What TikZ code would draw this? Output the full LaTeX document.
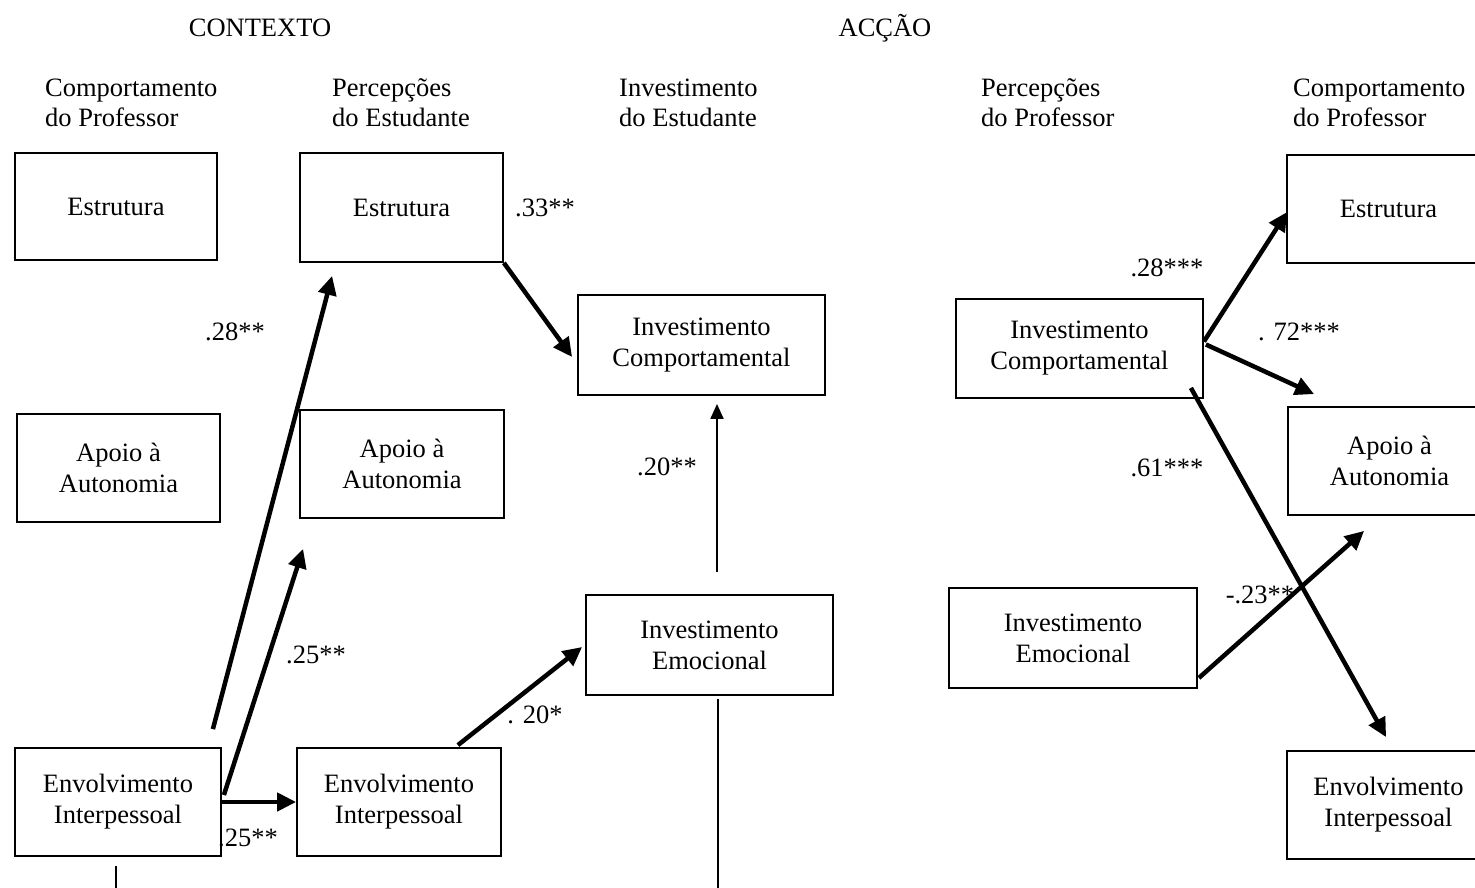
\documentclass[tikz,border=0pt]{standalone}
\usepackage{fontspec}
\setmainfont{Liberation Serif}
\usetikzlibrary{calc,arrows.meta}
\tikzset{
	caixa/.style={draw, line width=1.8pt, align=center, inner sep=0pt, font=\fontsize{26.5}{31}\selectfont},
	titulo/.style={align=left, inner sep=0pt, anchor=west, font=\fontsize{26.5}{30}\selectfont},
	coef/.style={inner sep=0pt, font=\fontsize{26.5}{30}\selectfont},
	seta/.style={line width=4.5pt, -{Triangle[length=19pt,width=18pt]}},
	setafina/.style={line width=1.8pt, -{Triangle[length=15pt,width=13pt]}},
	linha/.style={line width=1.8pt}
}

\begin{document}
\begin{tikzpicture}[x=1pt,y=-1pt]
			%%%%% START %%%%%
			\useasboundingbox (0,0) rectangle (1475,888);
			\clip (0,0) rectangle (1475,888);
			
			\node[coef] (contexto) at (260, 28) {CONTEXTO};
			\node[coef] (accao) at (885, 28) {ACÇÃO};
			
			\node[titulo] (t1) at (45, 103) {Comportamento\\do Professor};
			\node[titulo] (t2) at (332, 103) {Percepções\\do Estudante};
			\node[titulo] (t3) at (619, 103) {Investimento\\do Estudante};
			\node[titulo] (t4) at (981, 103) {Percepções\\do Professor};
			\node[titulo] (t5) at (1293, 103) {Comportamento\\do Professor};
			
			% contexto
			\node[caixa, minimum width=202pt, minimum height=107pt] (ce1) at (116, 206.5) {Estrutura};
			\node[caixa, minimum width=203pt, minimum height=108pt] (ca1) at (118.5, 468) {Apoio à\\Autonomia};
			\node[caixa, minimum width=206pt, minimum height=108pt] (cv1) at (118, 802) {Envolvimento\\Interpessoal};
			
			\node[caixa, minimum width=203pt, minimum height=109pt] (pe) at (401.5, 207.5) {Estrutura};
			\node[caixa, minimum width=204pt, minimum height=108pt] (pa) at (402, 464) {Apoio à\\Autonomia};
			\node[caixa, minimum width=204pt, minimum height=108pt] (pv) at (399, 802) {Envolvimento\\Interpessoal};
			
			\node[caixa, minimum width=247pt, minimum height=100pt] (ic) at (701.5, 345) {Investimento\\Comportamental};
			\node[caixa, minimum width=247pt, minimum height=100pt] (ie) at (709.5, 645) {Investimento\\Emocional};
			
			% accao
			\node[caixa, minimum width=247pt, minimum height=99pt] (ric) at (1079.5, 348.5) {Investimento\\Comportamental};
			\node[caixa, minimum width=248pt, minimum height=100pt] (rie) at (1073, 638) {Investimento\\Emocional};
			
			\node[caixa, minimum width=203pt, minimum height=108pt] (re) at (1388.5, 209) {Estrutura};
			\node[caixa, minimum width=203pt, minimum height=108pt] (ra) at (1389.5, 461) {Apoio à\\Autonomia};
			\node[caixa, minimum width=203pt, minimum height=108pt] (rv) at (1388.5, 805) {Envolvimento\\Interpessoal};
			
			\node[coef] (c28) at (235, 332) {.28**};
			\node[coef] (c25a) at (316, 655) {.25**};
			\node[coef] (c25b) at (248, 838) {.25**};
			\node[coef] (c33) at (545, 208) {.33**};
			\node[coef] (c20a) at (535, 715) {. 20*};
			\node[coef] (c20b) at (667, 467) {.20**};
			\node[coef] (c28r) at (1167, 268) {.28***};
			\node[coef] (c72) at (1299, 332) {. 72***};
			\node[coef] (c61) at (1167, 468) {.61***};
			\node[coef] (c23) at (1260, 595) {-.23**};
			
			\coordinate (iebaixo) at (718, 890);
			\coordinate (cvbaixo) at (116, 890);
			
			\draw[seta] ($(cv1.north east)+(-9,-18)$) -- ($(pe.south west)+(33,13)$);
			\draw[seta] ($(cv1.east)+(2,-7)$) -- ($(pa.south west)+(4,30)$);
			\draw[seta] (cv1.east) -- (pv.west);
			\draw[seta] (pe.south east) -- ($(ic.west)+(-5,12)$);
			\draw[seta] ($(pv.north east)+(-44,-2)$) -- ($(ie.west)+(-3,2)$);
			\draw[setafina] ($(ie.north)+(7.5,-22)$) -- ($(ic.south)+(15.5,8)$);
			\draw[linha] ($(ie.south)+(8.5,3)$) -- (iebaixo);
			\draw[linha] ($(cv1.south)+(-2,9)$) -- (cvbaixo);
			
			\draw[seta] ($(ric.east)+(0,-7)$) -- ($(re.west)+(1,3)$);
			\draw[seta] ($(ric.east)+(2,-4)$) -- ($(ra.north west)+(27,-12)$);
			\draw[seta] ($(ric.south east)+(-13,-11)$) -- ($(rv.north west)+(100,-13)$);
			\draw[seta] ($(rie.south east)+(1,-11)$) -- ($(ra.south west)+(77,15)$);
			%%%%% END %%%%%
\end{tikzpicture}
\end{document}
